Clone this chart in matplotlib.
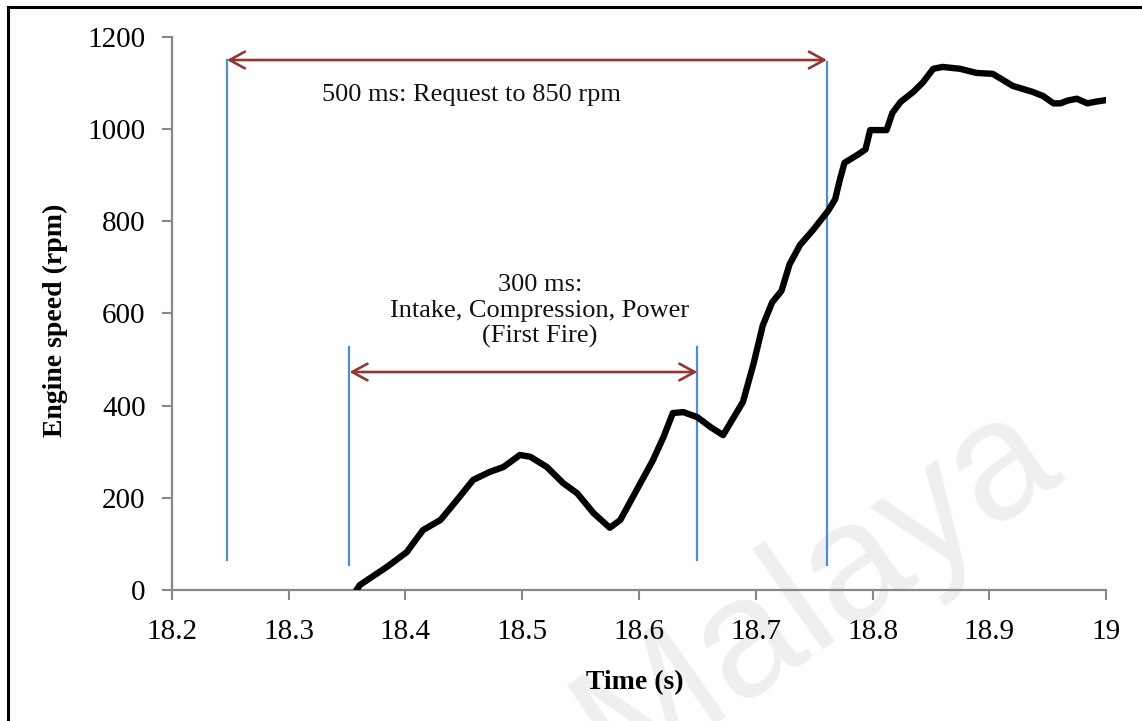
import matplotlib.pyplot as plt
from matplotlib.lines import Line2D

plt.rcParams['font.family'] = ['Liberation Serif', 'DejaVu Serif']

# engine speed trace during start-up
time_s = [18.358, 18.361, 18.384, 18.401, 18.415, 18.430, 18.444, 18.458, 18.472,
          18.484, 18.498, 18.507, 18.521, 18.535, 18.547, 18.561, 18.575, 18.584,
          18.598, 18.612, 18.621, 18.629, 18.638, 18.650, 18.661, 18.672, 18.689,
          18.698, 18.706, 18.714, 18.722, 18.729, 18.738, 18.749, 18.762, 18.768,
          18.772, 18.776, 18.787, 18.794, 18.798, 18.812, 18.817, 18.824, 18.835,
          18.843, 18.852, 18.860, 18.875, 18.889, 18.903, 18.920, 18.937, 18.946,
          18.955, 18.961, 18.967, 18.975, 18.984, 18.992, 19.000]
speed_rpm = [0, 11, 50, 82, 130, 152, 195, 239, 256,
             267, 293, 289, 267, 232, 210, 167, 135, 152,
             217, 282, 332, 384, 386, 375, 354, 336, 408,
             490, 574, 624, 649, 707, 749, 781, 823, 848,
             890, 927, 944, 956, 998, 998, 1035, 1059, 1081,
             1101, 1131, 1135, 1131, 1122, 1120, 1094, 1081, 1072,
             1056, 1056, 1062, 1066, 1056, 1060, 1063]

# event markers (time, bottom rpm, top rpm)
marker_t = [18.247, 18.352, 18.650, 18.761]
marker_lo = [65, 54, 65, 54]
marker_hi = [1150, 527, 527, 1146]

# interval arrows: (start, end, rpm level)
span_start = [18.247, 18.352]
span_end = [18.761, 18.650]
span_rpm = [1150, 473]
span_text = ['500 ms: Request to 850 rpm',
             '300 ms:\nIntake, Compression, Power\n(First Fire)']
span_text_xy = [(18.4565, 1074), (18.515, 605)]

x_ticks = [18.2, 18.3, 18.4, 18.5, 18.6, 18.7, 18.8, 18.9, 19.0]
x_ticklabels = ['18.2', '18.3', '18.4', '18.5', '18.6', '18.7', '18.8', '18.9', '19']
y_ticks = [0, 200, 400, 600, 800, 1000, 1200]

fig = plt.figure(figsize=(11.42, 7.21), dpi=100)
ax = fig.add_axes([0.1506, 0.1817, 0.8179, 0.767])
ax.set_facecolor('none')

# faint watermark behind everything
fig.text(817 / 1142, 1 - 590 / 721, 'Malaya', family='Liberation Sans',
         fontsize=121, color='#efefef', rotation=35, rotation_mode='anchor',
         ha='center', va='center', zorder=-1)

blue = '#4F8BD6'
red = '#943634'

for t, lo, hi in zip(marker_t, marker_lo, marker_hi):
    ax.plot([t, t], [lo, hi], color=blue, lw=1.6, zorder=2)

for a, b, r in zip(span_start, span_end, span_rpm):
    ax.annotate('', xy=(b, r), xytext=(a, r),
                arrowprops=dict(arrowstyle='<->,head_length=0.55,head_width=0.3',
                                color=red, lw=1.9, shrinkA=0, shrinkB=0,
                                mutation_scale=20), zorder=3)

for txt, (tx, ty) in zip(span_text, span_text_xy):
    ax.text(tx, ty, txt, fontsize=19, ha='center', va='center',
            linespacing=1.2, color='#111111')

ax.plot(time_s, speed_rpm, color='black', lw=4.6, solid_joinstyle='round',
        solid_capstyle='round', zorder=4)

ax.set_xlim(18.2, 19.0)
ax.set_ylim(0, 1200)
ax.set_xticks(x_ticks)
ax.set_xticklabels(x_ticklabels)
ax.set_yticks(y_ticks)

for side in ['top', 'right']:
    ax.spines[side].set_visible(False)
for side in ['left', 'bottom']:
    ax.spines[side].set_color('#888888')
    ax.spines[side].set_linewidth(1.6)
    ax.spines[side].set_zorder(1)

ax.tick_params(axis='both', direction='out', length=7, width=1.5,
               color='#888888', labelsize=21, labelcolor='black')
ax.tick_params(axis='y', pad=12)
ax.tick_params(axis='x', pad=14)

ax.set_xlabel('Time (s)', fontsize=20, fontweight='bold', va='center')
ax.xaxis.set_label_coords(0.496, -0.168)
ax.set_ylabel('Engine speed (rpm)', fontsize=20, fontweight='bold', va='center')
ax.yaxis.set_label_coords(-0.125, 0.488)

# outer frame (left and top edges)
fig.add_artist(Line2D([8 / 1142, 8 / 1142], [0, 1 - 7 / 721],
                      transform=fig.transFigure, color='black', lw=2.2))
fig.add_artist(Line2D([8 / 1142, 1], [1 - 7 / 721, 1 - 7 / 721],
                      transform=fig.transFigure, color='black', lw=2.2))

fig.savefig('out.png', dpi=100)
